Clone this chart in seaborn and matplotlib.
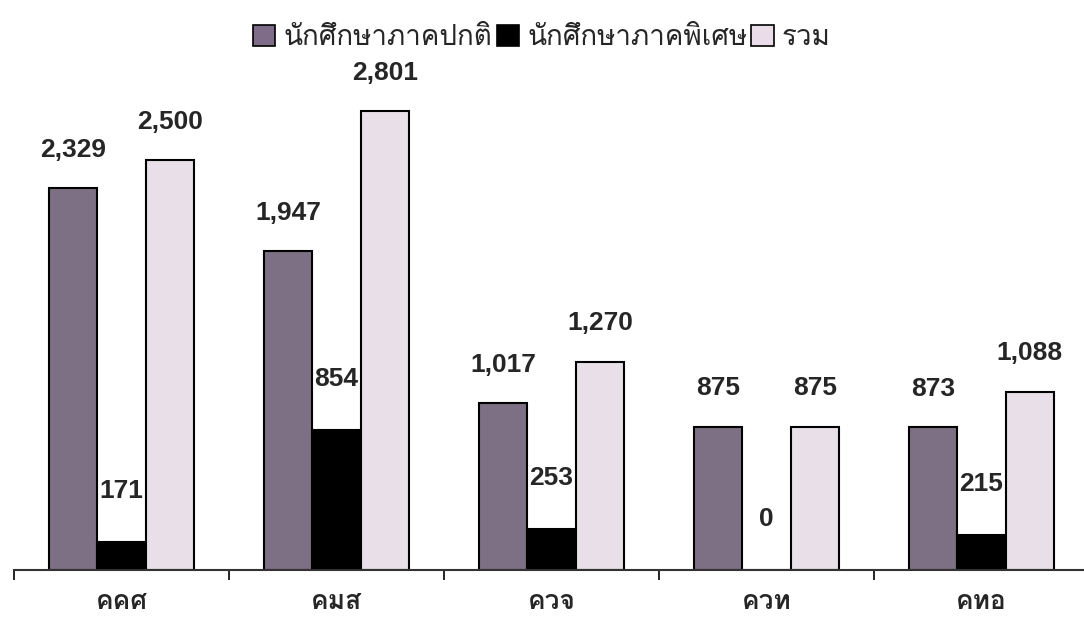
import pandas as pd
import numpy as np
import matplotlib
matplotlib.use("Agg")
import matplotlib.pyplot as plt
from matplotlib import font_manager
from matplotlib.patches import Patch
import seaborn as sns

# data
groups = ["คคศ", "คมส", "ควจ", "ควท", "คทอ"]
series = ["นักศึกษาภาคปกติ", "นักศึกษาภาคพิเศษ", "รวม"]
regular = [2329, 1947, 1017, 875, 873]
special = [171, 854, 253, 0, 215]
total = [2500, 2801, 1270, 875, 1088]

colors = ["#7e6c88", "#000000", "#eadde9"]

# look for a font that has Thai glyphs
thai_font = None
for f in font_manager.fontManager.ttflist:
    try:
        cmap = font_manager.get_font(f.fname).get_charmap()
    except Exception:
        continue
    if 0x0E01 in cmap and 0x0E28 in cmap:
        thai_font = f.name
        break

sns.set_style("white")
fams = ["Liberation Sans", "DejaVu Sans"]
if thai_font:
    fams = [thai_font] + fams
plt.rcParams["font.family"] = fams

df = pd.DataFrame({
    "group": groups * 3,
    "series": [series[0]] * 5 + [series[1]] * 5 + [series[2]] * 5,
    "value": regular + special + total,
})

fig = plt.figure(figsize=(10.84, 6.18), dpi=100)
ax = fig.add_axes([14 / 1084, 48 / 618, 1075 / 1084, 490 / 618])

sns.barplot(data=df, x="group", y="value", hue="series", hue_order=series,
            palette=colors, width=0.675, gap=0, edgecolor="black",
            linewidth=1.5, ax=ax, legend=False)

offsets = [19, 28, 19]
for cont, off in zip(ax.containers, offsets):
    for bar in cont:
        h = bar.get_height()
        ax.annotate(f"{h:,.0f}", (bar.get_x() + bar.get_width() / 2, h),
                    xytext=(0, off), textcoords="offset points",
                    ha="center", va="bottom", fontsize=19, fontweight="bold",
                    family=["Liberation Sans", "DejaVu Sans"])

ax.set_xlim(-0.5, 4.5)
ax.set_ylim(0, 2990)
ax.set_xticks(np.arange(-0.5, 5, 1))
ax.set_xticklabels([])
ax.tick_params(axis="x", direction="out", length=7, width=1.2, color="black", bottom=True)
for i, g in enumerate(groups):
    ax.text(i, -0.04, g, transform=ax.get_xaxis_transform(), ha="center",
            va="top", fontsize=19, fontweight="bold")
ax.set_yticks([])
ax.set_xlabel("")
ax.set_ylabel("")
for s in ["top", "right", "left"]:
    ax.spines[s].set_visible(False)
ax.spines["bottom"].set_color("#333333")
ax.spines["bottom"].set_linewidth(1.5)

handles = [Patch(facecolor=c, edgecolor="black", linewidth=1.2) for c in colors]
fig.legend(handles, series, loc="center", bbox_to_anchor=(0.5, 0.938), ncol=3,
           frameon=False, fontsize=20, handlelength=0.8, handleheight=0.8,
           handletextpad=0.3, columnspacing=0.15)

fig.savefig("out.png", dpi=100)
